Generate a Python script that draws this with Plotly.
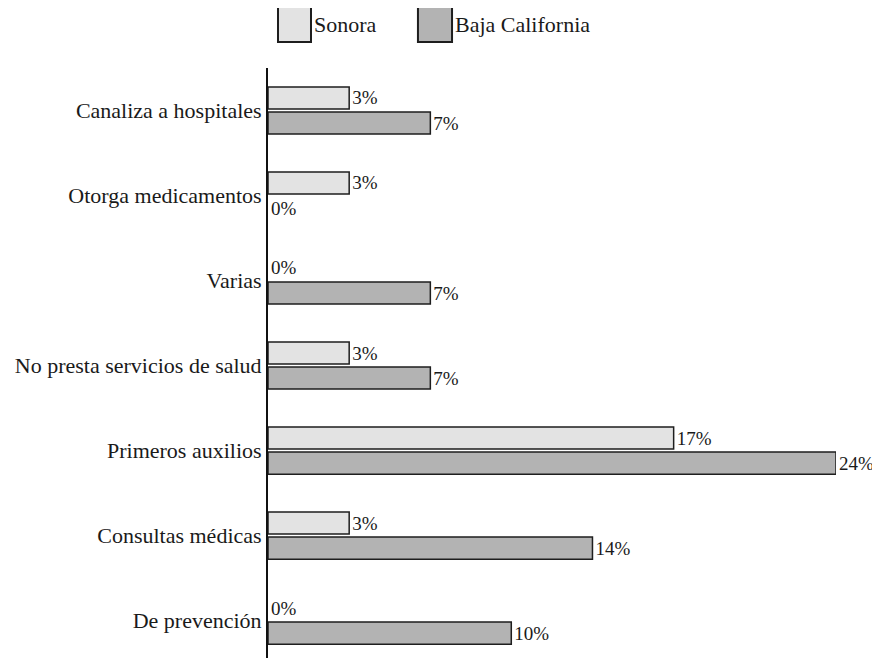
import plotly.graph_objects as go

# Data (percent of respondents, n = 29 per state)
categories = [
    "Canaliza a hospitales",
    "Otorga medicamentos",
    "Varias",
    "No presta servicios de salud",
    "Primeros auxilios",
    "Consultas médicas",
    "De prevención",
]
sonora = [3.45, 3.45, 0, 3.45, 17.24, 3.45, 0]
baja_california = [6.90, 0, 6.90, 6.90, 24.14, 13.79, 10.34]

SERIF = "Liberation Serif"
COL_SON = "#e3e3e3"
COL_BC = "#b3b3b3"
EDGE = "#1e1e1e"

fig = go.Figure()
for name, vals, col in [("Sonora", sonora, COL_SON), ("Baja California", baja_california, COL_BC)]:
    fig.add_trace(
        go.Bar(
            y=categories,
            x=vals,
            name=name,
            orientation="h",
            # no outline on empty bars, otherwise a stray tick shows at zero
            marker=dict(
                color=col,
                line=dict(color=EDGE, width=[1.5 if v > 0 else 0 for v in vals]),
            ),
            texttemplate="%{x:.0f}%",
            textposition="outside",
            textfont=dict(family=SERIF, size=19, color="#1a1a1a"),
            constraintext="none",
            cliponaxis=False,
            showlegend=False,
        )
    )

# ------------------------------------------------------------------
# Hand-drawn legend at the top (big outlined boxes)
# ------------------------------------------------------------------
legend_items = [("Sonora", COL_SON, 0.0176, 0.0757), ("Baja California", COL_BC, 0.264, 0.324)]
for label, col, x0, x1 in legend_items:
    fig.add_shape(
        type="rect", xref="paper", yref="paper",
        x0=x0, x1=x1, y0=1.0441, y1=1.1034,
        fillcolor=col, line=dict(color=EDGE, width=2),
    )
    fig.add_annotation(
        xref="paper", yref="paper", x=x1 + 0.002, y=1.073,
        text=label, showarrow=False, xanchor="left", yanchor="middle",
        font=dict(family=SERIF, size=22, color="#1a1a1a"),
    )

# page body has an 8px default margin, so the figure is sized 8px smaller
fig.update_layout(
    width=872,
    height=650,
    margin=dict(l=260, r=44, t=60, b=0),
    barmode="group",
    bargap=0.41,
    bargroupgap=0.12,
    plot_bgcolor="white",
    paper_bgcolor="white",
    font=dict(family=SERIF, size=22, color="#1a1a1a"),
)
fig.update_xaxes(range=[0, 24.14], visible=False, automargin=False)
fig.update_yaxes(
    range=[6.44, -0.5],
    automargin=False,
    showline=True,
    linecolor="#111111",
    linewidth=2,
    ticks="",
    showgrid=False,
    tickfont=dict(family=SERIF, size=22, color="#1a1a1a"),
)

fig.write_html("out.html")
